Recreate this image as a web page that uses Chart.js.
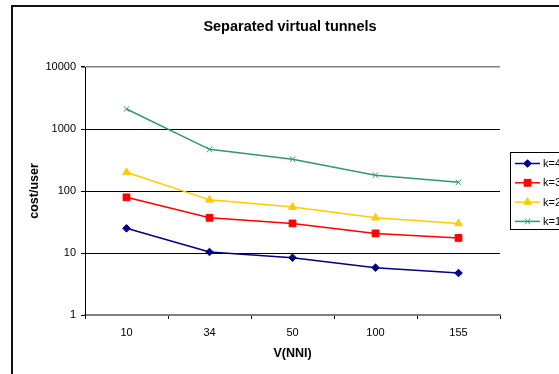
<!DOCTYPE html>
<html>
<head>
<meta charset="utf-8">
<script src="https://cdn.jsdelivr.net/npm/chart.js@4/dist/chart.umd.min.js"></script>
<style>
  html, body { margin: 0; padding: 0; width: 559px; height: 374px; overflow: hidden; background: #fff; }
  #frame { position: absolute; left: 11px; top: 5px; border: 2px solid #111; width: 600px; height: 400px; }
  canvas { display: block; }
</style>
</head>
<body>
<div id="frame"><canvas id="c" width="600" height="400"></canvas></div>
<script>
// V(NNI) categories on the x axis
const categories = ['10', '34', '50', '100', '155'];
// cost per user for each k
const seriesK4 = [25, 10.4, 8.4, 5.8, 4.75];
const seriesK3 = [79, 37, 30, 20.7, 17.5];
const seriesK2 = [200, 72, 55, 37, 30];
const seriesK1 = [2100, 470, 325, 180, 138];
const seriesNames = ['k=4', 'k=3', 'k=2', 'k=1'];
// decade ticks of the log axis
const yTicks = [1, 10, 100, 1000, 10000];

const FONT = 'Arial, "Liberation Sans", sans-serif';

// Legend box at the right of the plot, drawn with the datasets' own styles
const sideLegend = {
  id: 'sideLegend',
  afterDraw(chart) {
    const ctx = chart.ctx;
    const area = chart.chartArea;
    const x0 = area.right + 10;
    const y0 = 145;
    ctx.save();
    ctx.strokeStyle = '#000';
    ctx.lineWidth = 1;
    ctx.strokeRect(Math.round(x0) + 0.5, y0 + 0.5, 90, 77);
    chart.data.datasets.forEach((ds, i) => {
      const y = y0 + 11.5 + i * 19.3;
      ctx.strokeStyle = ds.borderColor;
      ctx.lineWidth = 1.5;
      ctx.beginPath();
      ctx.moveTo(x0 + 5, y);
      ctx.lineTo(x0 + 30, y);
      ctx.stroke();
      ctx.fillStyle = ds.pointBackgroundColor;
      ctx.strokeStyle = ds.pointBorderColor;
      ctx.lineWidth = 1;
      Chart.helpers.drawPoint(ctx, {
        pointStyle: ds.pointStyle,
        radius: ds.pointRadius,
        rotation: 0,
        borderWidth: 1
      }, x0 + 17.5, y);
      ctx.fillStyle = '#000';
      ctx.font = '11px ' + FONT;
      ctx.textBaseline = 'middle';
      ctx.textAlign = 'left';
      ctx.fillText(ds.label, x0 + 33, y + 0.5);
    });
    ctx.restore();
  }
};

function lineSet(label, data, color, style, radius) {
  return {
    label, data,
    borderColor: color,
    backgroundColor: color,
    pointBackgroundColor: color,
    pointBorderColor: color,
    pointStyle: style,
    pointRadius: radius,
    pointBorderWidth: 1,
    borderWidth: 1.5,
    tension: 0,
    fill: false,
    yAxisID: 'y'
  };
}

new Chart(document.getElementById('c'), {
  type: 'line',
  data: {
    labels: categories,
    datasets: [
      lineSet(seriesNames[0], seriesK4, '#000080', 'rectRot', 3.8),
      lineSet(seriesNames[1], seriesK3, '#FF0000', 'rect', 4.8),
      lineSet(seriesNames[2], seriesK2, '#FFCC00', 'triangle', 4.5),
      lineSet(seriesNames[3], seriesK1, '#339966', 'crossRot', 4)
    ]
  },
  plugins: [sideLegend],
  options: {
    responsive: false,
    animation: false,
    devicePixelRatio: 1,
    layout: { padding: { left: 0, top: 0, right: 46, bottom: 42 } },
    plugins: {
      legend: { display: false },
      tooltip: { enabled: false },
      title: {
        display: true,
        text: 'Separated virtual tunnels',
        color: '#000',
        font: { family: FONT, size: 14.5, weight: 'bold', lineHeight: 1.2 },
        padding: { top: 11.6, bottom: 31 }
      }
    },
    scales: {
      x: {
        type: 'category',
        offset: true,
        afterFit(s) { s.height = 50; },
        grid: {
          offset: true,
          drawOnChartArea: false,
          drawTicks: true,
          tickLength: 4,
          tickColor: '#000',
          tickWidth: 1
        },
        border: { display: true, color: '#808080', width: 1.5 },
        ticks: {
          color: '#000',
          padding: 7,
          maxRotation: 0,
          font: { family: FONT, size: 11, lineHeight: 1.2 }
        },
        title: {
          display: true,
          text: 'V(NNI)',
          color: '#000',
          font: { family: FONT, size: 12.5, weight: 'bold', lineHeight: 1.2 },
          padding: { top: 0, bottom: 3.5 }
        }
      },
      y: {
        type: 'logarithmic',
        position: 'left',
        min: 1,
        max: 10000,
        afterFit(s) { s.width = 72; },
        afterBuildTicks(s) { s.ticks = yTicks.map(v => ({ value: v })); },
        grid: {
          drawTicks: true,
          tickLength: 4,
          color: ctx => (ctx.tick && (ctx.tick.value === 10000 || ctx.tick.value === 1)) ? '#808080' : '#000',
          tickColor: '#000',
          lineWidth: ctx => (ctx.tick && ctx.tick.value === 10000) ? 1.5 : 1
        },
        border: { display: true, color: '#000', width: 1 },
        ticks: {
          color: '#000',
          padding: 5,
          font: { family: FONT, size: 11, lineHeight: 1.2 },
          callback: v => String(v)
        },
        title: {
          display: true,
          text: 'cost/user',
          color: '#000',
          font: { family: FONT, size: 12.5, weight: 'bold', lineHeight: 1.2 },
          padding: { top: 14.5, bottom: 0 }
        }
      },
      // empty strip on the right that holds the legend box
      legendSpace: {
        type: 'linear',
        position: 'right',
        display: true,
        afterFit(s) { s.width = 67; },
        grid: { display: false, drawTicks: false },
        border: { display: false },
        ticks: { display: false }
      }
    }
  }
});
</script>
</body>
</html>
